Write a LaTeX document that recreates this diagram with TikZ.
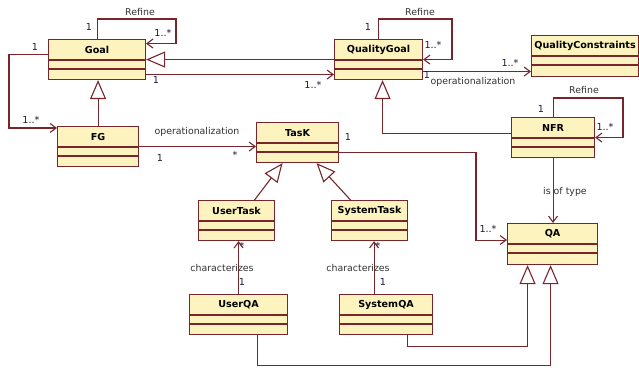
\documentclass[tikz,border=0pt]{standalone}
\usepackage{fontspec}
\setmainfont{DejaVu Sans}
\usetikzlibrary{arrows.meta}

\definecolor{umlfill}{RGB}{252,243,190}
\definecolor{umlline}{RGB}{120,38,44}
\definecolor{umltext}{RGB}{50,50,50}
\definecolor{umlmult}{RGB}{25,25,55}

\begin{document}
\begin{tikzpicture}[x=1pt,y=-1pt,
	classbox/.style={draw=umlline,fill=umlfill,line width=1.1pt,inner sep=0pt},
	classline/.style={draw=umlline,line width=1.1pt},
	classname/.style={font=\fontsize{9.6}{11}\selectfont\bfseries,text=black,inner sep=0pt},
	assoc/.style={draw=umlline,line width=1.1pt,-{Straight Barb[length=6pt,width=9pt]}},
	gen/.style={draw=umlline,line width=1.1pt,-{Triangle[fill=white,length=19pt,width=16pt]}},
	lbl/.style={font=\fontsize{9.4}{11}\selectfont,text=umltext,inner sep=0pt},
	mult/.style={font=\fontsize{9.6}{11}\selectfont,text=umlmult,inner sep=0pt}]
	\useasboundingbox (0,0) rectangle (639,371);
	\foreach \n/\t/\x/\y/\w/\h in {goal/Goal/48/39/97/40, fg/FG/57/126/81/40,
		qgoal/QualityGoal/334/39/88/40, task/TasK/256/122/82/40,
		qcons/QualityConstraints/531/35/107/41, nfr/NFR/511/117/83/40,
		usertask/UserTask/198/200/76/40, systask/SystemTask/331/200/76/40,
		userqa/UserQA/189/294/98/40, sysqa/SystemQA/339/294/93/40, qa/QA/507/223/90/41}{
		\node[classbox,anchor=north west,minimum width=\w pt,minimum height=\h pt] (\n) at (\x,\y) {};
		\node[classname] (\n-name) at ([yshift=-11pt]\n.north) {\t};
		\draw[classline] ([yshift=-21pt]\n.north west) -- ([yshift=-21pt]\n.north east)
			([yshift=-30pt]\n.north west) -- ([yshift=-30pt]\n.north east);
	}
	\draw[assoc] (goal.north) |- (176,19) |- ([yshift=16pt]goal.east);
	\draw[gen] (qgoal.west) -- (goal.east);
	\draw[assoc] ([yshift=-15pt]goal.east) -- ([yshift=-15pt]qgoal.west);
	\draw[assoc] ([yshift=5pt]goal.west) -- ++(-39,0) |- ([yshift=-2pt]fg.north west);
	\draw[gen] (fg.north) -- (fg.north |- goal.south);
	\draw[assoc] (fg.east) -- (fg.east -| task.west);
	\draw[assoc] (qgoal.north) |- (452,19) |- (qgoal.east);
	\draw[assoc] ([yshift=-12pt]qgoal.east) -- ([yshift=-12pt]qgoal.east -| qcons.west);
	\draw[gen] ([yshift=4pt]nfr.west) -| ([xshift=4pt]qgoal.south);
	\draw[assoc] (nfr.north) |- (623,98) |- (nfr.east);
	\draw[assoc] (nfr.south) -- (nfr.south |- qa.north);
	\draw[assoc] ([yshift=-10pt]task.east) -| ([xshift=-31pt,yshift=4pt]qa.west) -- ([yshift=4pt]qa.west);
	\draw[gen] ([xshift=18pt]usertask.north) -- ([xshift=-15pt]task.south);
	\draw[gen] ([xshift=-19pt]systask.north) -- ([xshift=19pt]task.south);
	\draw[assoc] (userqa.north) -- (userqa.north |- usertask.south);
	\draw[assoc] ([xshift=-12pt]sysqa.north) -- ([xshift=-12pt]sysqa.north |- systask.south);
	\draw[gen] ([xshift=21pt]sysqa.south) |- ([xshift=-25pt,yshift=-81pt]qa.south) -- ([xshift=-25pt]qa.south);
	\draw[gen] ([xshift=19pt]userqa.south) |- ([xshift=-2pt,yshift=-100pt]qa.south) -- ([xshift=-2pt]qa.south);
	\node[lbl] (goal-ref) at (140,12) {Refine};
	\node[mult] (goal-ref-a) at (89,27) {1};
	\node[mult] (goal-ref-b) at (163,33) {1..*};
	\node[mult] (goal-fg-a) at (35,47) {1};
	\node[mult] (goal-fg-b) at (31,120) {1..*};
	\node[mult] (goal-qg-a) at (156,80) {1};
	\node[mult] (goal-qg-b) at (313,85) {1..*};
	\node[lbl] (fg-task) at (197,132) {operationalization};
	\node[mult] (fg-task-a) at (160,158) {1};
	\node[mult] (fg-task-b) at (235,155) {*};
	\node[lbl] (qgoal-ref) at (420,12) {Refine};
	\node[mult] (qgoal-ref-a) at (368,27) {1};
	\node[mult] (qgoal-ref-b) at (433,45) {1..*};
	\node[mult] (qgoal-qc-a) at (427,75) {1};
	\node[lbl] (qgoal-qc) at (473,82) {operationalization};
	\node[mult] (qgoal-qc-b) at (510,63) {1..*};
	\node[lbl] (nfr-ref) at (584,90) {Refine};
	\node[mult] (nfr-ref-a) at (541,109) {1};
	\node[mult] (nfr-ref-b) at (605,127) {1..*};
	\node[lbl] (nfr-qa) at (565,192) {is of type};
	\node[mult] (task-qa-a) at (348,137) {1};
	\node[mult] (task-qa-b) at (488,229) {1..*};
	\node[mult] (uqa-b) at (242,246) {*};
	\node[lbl] (uqa) at (222,268) {characterizes};
	\node[mult] (uqa-a) at (242,282) {1};
	\node[mult] (sqa-b) at (378,246) {*};
	\node[lbl] (sqa) at (358,268) {characterizes};
	\node[mult] (sqa-a) at (383,282) {1};
\end{tikzpicture}
\end{document}
